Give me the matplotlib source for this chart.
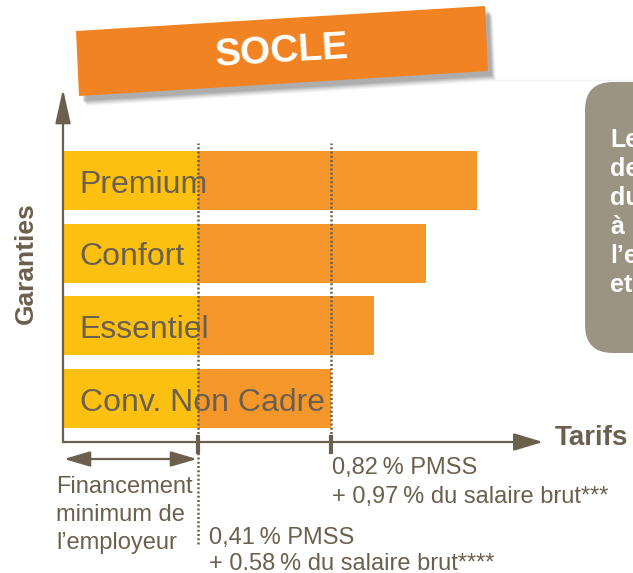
import matplotlib.pyplot as plt
from matplotlib.patches import Polygon, FancyBboxPatch

plt.rcParams['font.family'] = ['Liberation Sans', 'DejaVu Sans']

# values (tarif axis in arbitrary units, 0 -> 100 at the arrow tip)
garanties = ["Conv. Non Cadre", "Essentiel", "Confort", "Premium"]
tarifs = [55.8, 64.8, 75.6, 86.3]
part_employeur = 28.1
seuils = [part_employeur, tarifs[0]]

label_socle = "SOCLE"
label_min = ["0,41\u2009% PMSS", "+ 0.58\u2009% du salaire brut****"]
label_conv = ["0,82\u2009% PMSS", "+ 0,97\u2009% du salaire brut***"]
label_employeur = ["Financement", "minimum de", "l\u2019employeur"]
encadre = ["Le", "de", "du", "\u00e0", "l\u2019e", "et"]

JAUNE = "#FCC010"
ORANGE = "#F5972A"
ORANGE_BANNER = "#F28322"
BRUN = "#6B604E"
GRIS = "#9C9483"

W, H = 633, 573
fig = plt.figure(figsize=(W / 100, H / 100), dpi=100)

# decoration layer in pixel coordinates
deco = fig.add_axes([0, 0, 1, 1])
deco.set_xlim(0, W)
deco.set_ylim(H, 0)
deco.axis("off")

# main chart
ax = fig.add_axes([63 / W, 1 - 442 / H, 480 / W, 353 / H])
ax.patch.set_alpha(0)
for s in ax.spines.values():
    s.set_visible(False)
ax.set_xticks([])
ax.set_yticks([])
ax.set_xlim(0, 100)
ax.set_ylim(-0.598, 4.257)

n = len(garanties)
pos = list(range(n))
ax.barh(pos, [part_employeur] * n, height=0.81, color=JAUNE, zorder=2)
ax.barh(pos, [t - part_employeur for t in tarifs], left=part_employeur,
        height=0.81, color=ORANGE, zorder=2)
for i, g in enumerate(garanties):
    ax.text(3.5, i - 0.17, g, fontsize=23, color=BRUN, va="baseline", zorder=4)

# dotted thresholds + axis ticks
dots = dict(color=BRUN, lw=1.8, ls=(0, (0.8, 0.9)), clip_on=False, zorder=3)
ax.axvline(seuils[0], ymin=-0.29, ymax=0.847, **dots)
ax.axvline(seuils[1], ymin=0.0, ymax=0.847, **dots)
for s in seuils:
    ax.axvline(s, ymin=-0.028, ymax=0.014, color=BRUN, lw=3, clip_on=False, zorder=3)

# axes arrows
ax.annotate("", xy=(0, 1), xytext=(0, 0), xycoords="axes fraction",
            arrowprops=dict(arrowstyle="-|>,head_length=2.1,head_width=0.47",
                            mutation_scale=10, color=BRUN, lw=1.6,
                            shrinkA=0, shrinkB=0))
ax.annotate("", xy=(1, 0), xytext=(0, 0), xycoords="axes fraction",
            arrowprops=dict(arrowstyle="-|>,head_length=1.8,head_width=0.54",
                            mutation_scale=10, color=BRUN, lw=1.6,
                            shrinkA=0, shrinkB=0))

deco.text(555, 445, "Tarifs", fontsize=20, fontweight="bold", color=BRUN,
          va="baseline", ha="left")
deco.text(33, 263, "Garanties", fontsize=19, fontweight="bold", color=BRUN,
          rotation=90, rotation_mode="anchor", ha="center", va="baseline")

# double arrow for employer part
deco.annotate("", xy=(64, 459), xytext=(197, 459),
              arrowprops=dict(arrowstyle="<|-|>,head_length=1.6,head_width=0.47",
                              mutation_scale=10, color=BRUN, lw=1.6,
                              shrinkA=0, shrinkB=0))

for k, t in enumerate(label_employeur):
    deco.text(56, 493 + 28 * k, t, fontsize=17, color=BRUN, va="baseline")
for k, t in enumerate(label_conv):
    deco.text(332, 474 + 29 * k, t, fontsize=17, color=BRUN, va="baseline")
for k, t in enumerate(label_min):
    deco.text(209, 544 + 26 * k, t, fontsize=17, color=BRUN, va="baseline")

# SOCLE banner with soft shadow
corners = [(76, 31), (485, 6), (488, 71), (79, 96)]
for d, a in [(10, 0.05), (9, 0.07), (8, 0.09), (7, 0.11), (6, 0.13), (5, 0.15)]:
    deco.add_patch(Polygon([(x + d * 0.8, y + d) for x, y in corners],
                           closed=True, color="#555555", alpha=a, lw=0))
deco.add_patch(Polygon(corners, closed=True, color=ORANGE_BANNER, lw=0))
deco.text(282, 52, label_socle, fontsize=28, fontweight="bold", color="white",
          rotation=3.5, rotation_mode="anchor", ha="center", va="center")

deco.plot([490, W], [80, 80], color="#f2f2f2", lw=1)

# grey side box (cut by the page edge)
deco.add_patch(FancyBboxPatch((585, 82), 120, 271,
                              boxstyle="round,pad=0,rounding_size=28",
                              color=GRIS, lw=0))
for k, t in enumerate(encadre):
    deco.text(610, 147 + 29 * k, t, fontsize=18, fontweight="bold",
              color="white", va="baseline")

fig.savefig("out.png", dpi=100)
